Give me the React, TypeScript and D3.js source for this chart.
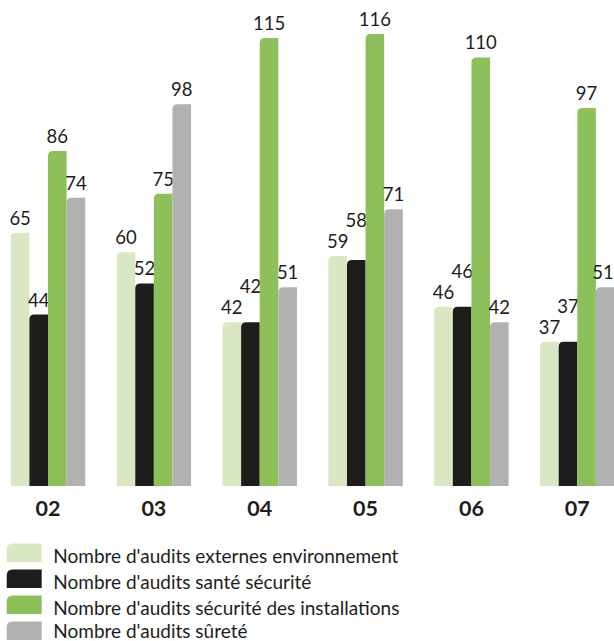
import React from "react";
import * as d3 from "d3";

const years = ["02", "03", "04", "05", "06", "07"];
const seriesNames = [
  "Nombre d'audits externes environnement",
  "Nombre d'audits santé sécurité",
  "Nombre d'audits sécurité des installations",
  "Nombre d'audits sûreté",
];
const envValues = [65, 60, 42, 59, 46, 37];
const santeValues = [44, 52, 42, 58, 46, 37];
const installValues = [86, 75, 115, 116, 110, 97];
const sureteValues = [74, 98, 51, 71, 42, 51];
const colors = ["#d9e8c3", "#1d1d1b", "#8dc05a", "#b1b1b1"];

const W = 614;
const H = 641;
const baseY = 486;
const FONT = "Lato, 'Open Sans', sans-serif";

function barPath(x: number, y: number, w: number, h: number, r: number) {
  const rr = Math.min(r, h, w);
  return `M${x},${y + h}V${y + rr}Q${x},${y} ${x + rr},${y}H${x + w}V${y + h}Z`;
}

export default function App() {
  const all = [envValues, santeValues, installValues, sureteValues];
  const x0 = d3.scaleBand<string>().domain(years).range([10.8, 614.5]).paddingInner(0.297).paddingOuter(0);
  const x1 = d3.scaleBand<number>().domain([0, 1, 2, 3]).range([0, x0.bandwidth()]).padding(0);
  const y = d3.scaleLinear().domain([0, 116]).range([baseY, baseY - 452]);

  return (
    <svg width={W} height={H} style={{ position: "absolute", left: 0, top: 0, display: "block" }}>
      <rect width={W} height={H} fill="#fff" />
      {years.map((yr, i) => {
        const gx = x0(yr)!;
        let prevLabelY: number | null = null;
        const labels = all.map((vals) => {
          const v = vals[i];
          let ly = y(v) - 8;
          if (prevLabelY !== null && Math.abs(ly - prevLabelY) < 16) {
            ly = prevLabelY - 21;
          }
          prevLabelY = ly;
          return ly;
        });
        return (
          <g key={yr} transform={`translate(${gx},0)`}>
            {all.map((vals, s) => {
              const v = vals[i];
              const bx = x1(s)!;
              const bw = x1.bandwidth();
              const top = y(v);
              const cx = Math.min(bx + bw / 2, W - 11 - gx);
              return (
                <g key={s}>
                  <path d={barPath(bx, top, bw, baseY - top, 5)} fill={colors[s]} />
                  <text
                    x={cx}
                    y={labels[s]}
                    textAnchor="middle"
                    fontFamily={FONT}
                    fontSize={18.5}
                    fill="#1d1d1b"
                  >
                    {v}
                  </text>
                </g>
              );
            })}
            <text
              x={x0.bandwidth() / 2}
              y={516}
              textAnchor="middle"
              fontFamily={FONT}
              fontWeight="bold"
              fontSize={21.5}
              fill="#1d1d1b"
            >
              {yr}
            </text>
          </g>
        );
      })}
      {seriesNames.map((name, s) => (
        <g key={name} transform={`translate(0,${543.5 + s * 26})`}>
          <path d={barPath(6.7, 0, 35, 18.5, 6)} fill={colors[s]} />
          <text x={53.3} y={s === 3 ? 16 : 19} fontFamily={FONT} fontSize={19} fill="#1d1d1b">
            {name}
          </text>
        </g>
      ))}
    </svg>
  );
}
